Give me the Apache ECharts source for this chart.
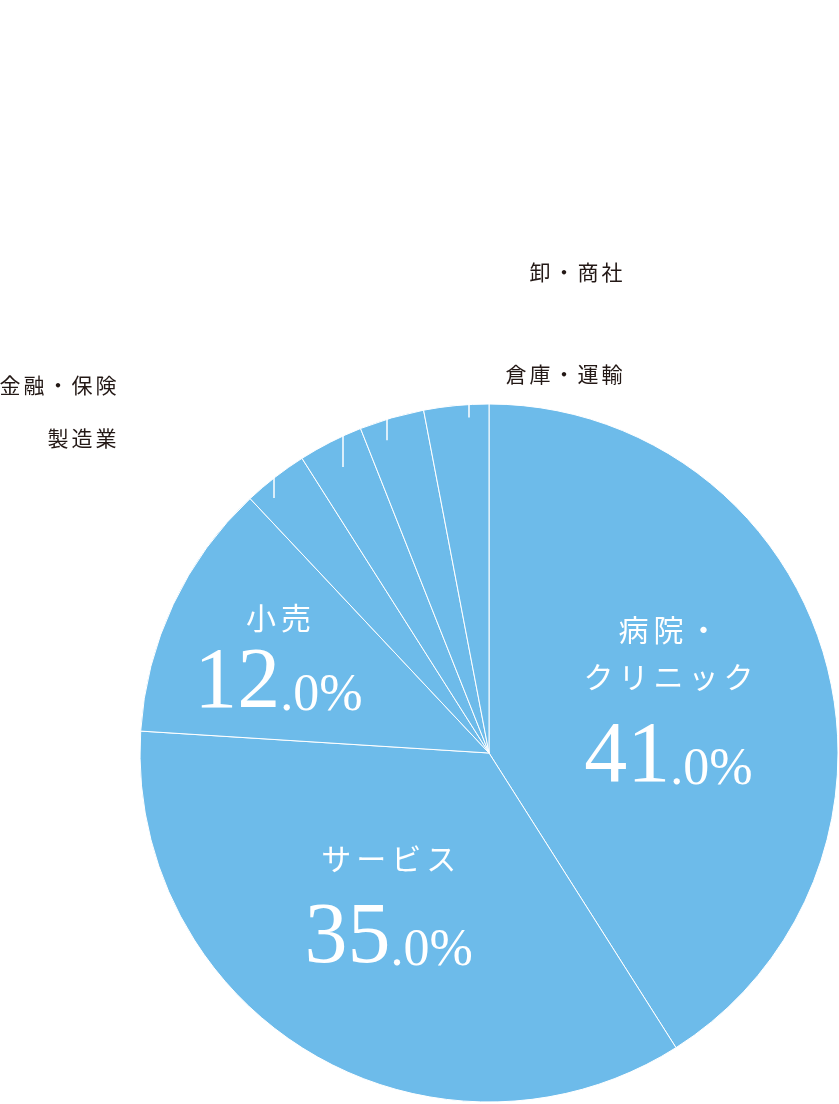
<!DOCTYPE html>
<html>
<head>
<meta charset="utf-8">
<style>
html, body { margin: 0; padding: 0; background: #fff; }
#chart { width: 839px; height: 1104px; }
</style>
</head>
<body>
<div id="chart"></div>
<script src="https://cdn.jsdelivr.net/npm/echarts@6/dist/echarts.min.js"></script>
<script>
// 業種別の割合（12時の位置から時計回り）
var categories = ['病院・\nクリニック', 'サービス', '小売', '製造業', '金融・保険', '卸・商社', '倉庫・運輸'];
var values = [41, 35, 12, 3, 3, 3, 3];
var outsideNames = ['製造業', '金融・保険', '卸・商社', '倉庫・運輸'];

var cx = 489, cy = 753, r = 349;
var pieColor = '#6dbbea';
var guideColor = '#ffffff';

// 外側ラベル：右寄せの位置と白い引き出し線の縦線
var outerPos = {
  '製造業':    { x: 118, y: 438, tickX: 274, depth: 20 },
  '金融・保険': { x: 118, y: 385, tickX: 343, depth: 31 },
  '卸・商社':  { x: 624, y: 272, tickX: 387, depth: 21 },
  '倉庫・運輸': { x: 624, y: 374, tickX: 469, depth: 13 }
};
// 内側ラベルのずらし量と数字の上の余白
var innerLayout = {
  '病院・\nクリニック': { shift: [9, 0], gap: 15 },
  'サービス': { shift: [-10, 3], gap: 15 },
  '小売': { shift: [-50, -17], gap: 0 }
};

function spaced(str, style) {
  return str.split('').map(function (c) { return '{' + style + '|' + c + '}'; }).join('');
}

var chart = echarts.init(document.getElementById('chart'));

function pieData(withGuide) {
  return categories.map(function (name, i) {
    var item = { name: name, value: values[i] };
    if (withGuide) item.labelLine = { show: outsideNames.indexOf(name) >= 0 };
    return item;
  });
}

var baseSeries = {
  type: 'pie',
  center: [cx, cy],
  radius: [0, r],
  startAngle: 90,
  clockwise: true,
  avoidLabelOverlap: false,
  emphasis: { disabled: true }
};

chart.setOption({
  animation: false,
  series: [
    echarts.util.merge({
      z: 2,
      itemStyle: { color: pieColor, borderColor: '#fff', borderWidth: 1 },
      label: {
        show: true,
        position: 'inside',
        formatter: function (p) {
          var l = innerLayout[p.name];
          if (!l) return '';
          var num = p.value.toFixed(1).split('.');
          var lines = p.name.split('\n').map(function (s) { return spaced(s, 'n'); });
          return lines.join('\n') + '\n{' + (l.gap ? 'big' : 'bigT') + '|' + num[0] + '}{small|.' + num[1] + '%}';
        },
        rich: {
          n: { fontFamily: 'Noto Sans CJK JP', fontSize: 30, color: '#fff', padding: [0, 2.5], lineHeight: 47 },
          big: { fontFamily: 'Liberation Serif', fontSize: 86, color: '#fff', verticalAlign: 'bottom', padding: [15, 0, 0, 0] },
          bigT: { fontFamily: 'Liberation Serif', fontSize: 86, color: '#fff', verticalAlign: 'bottom' },
          small: { fontFamily: 'Liberation Serif', fontSize: 52, color: '#fff', verticalAlign: 'bottom', padding: [0, 0, 5, 0] }
        }
      },
      labelLine: { show: false },
      labelLayout: function (params) {
        var l = innerLayout[categories[params.dataIndex]];
        return l ? { dx: l.shift[0], dy: l.shift[1] } : {};
      },
      data: pieData(false)
    }, baseSeries, true),
    // 外側ラベルと引き出し線だけを載せる透明な円
    echarts.util.merge({
      z: 4,
      silent: true,
      itemStyle: { color: 'rgba(0,0,0,0)', borderWidth: 0 },
      label: {
        show: true,
        position: 'outside',
        formatter: function (p) {
          return outsideNames.indexOf(p.name) >= 0 ? spaced(p.name, 'o') : '';
        },
        rich: {
          o: { fontFamily: 'Noto Sans CJK JP', fontSize: 21, color: '#231815', padding: [0, 1.5] }
        }
      },
      labelLine: { show: true, lineStyle: { color: guideColor, width: 1.5 } },
      labelLayout: function (params) {
        var o = outerPos[categories[params.dataIndex]];
        if (!o) return {};
        var w = params.labelRect.width;
        var edgeY = cy - Math.sqrt(r * r - (o.tickX - cx) * (o.tickX - cx));
        var endX = o.tickX > o.x ? o.x + 4 : o.x - w - 4;
        return {
          x: o.x, y: o.y, align: 'right', verticalAlign: 'middle',
          labelLinePoints: [[o.tickX, edgeY + o.depth], [o.tickX, o.y], [endX, o.y]]
        };
      },
      data: pieData(true)
    }, baseSeries, true)
  ]
});
</script>
</body>
</html>
